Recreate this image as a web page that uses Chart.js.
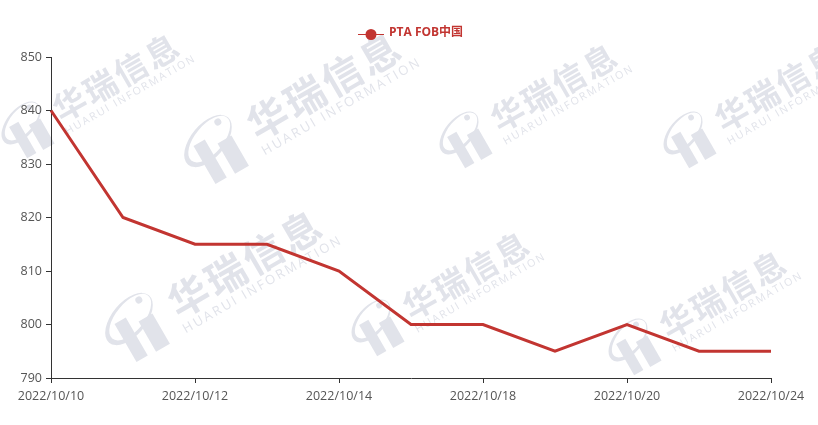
<!DOCTYPE html>
<html>
<head>
<meta charset="utf-8">
<script src="https://cdn.jsdelivr.net/npm/chart.js@4"></script>
<style>
  html, body { margin: 0; padding: 0; background: #fff; }
  canvas { display: block; }
</style>
</head>
<body>
<canvas id="my-chart" width="818" height="425"></canvas>
<script>
let dates = ["2022/10/10", "2022/10/11", "2022/10/12", "2022/10/13", "2022/10/14", "2022/10/17",
  "2022/10/18", "2022/10/19", "2022/10/20", "2022/10/21", "2022/10/24"];
let prices = [840, 820, 815, 815, 810, 800, 800, 795, 800, 795, 795];
let seriesName = "PTA FOB中国";
let red = "#c23531";

// logo centre and scale of each watermark, the words follow up and to the right
let marks = [[21, 123, 0.82], [208, 141, 1], [459, 133, 0.82], [683, 133, 0.82], [129, 319, 1], [371, 321, 0.82], [628, 340, 0.82]];

function drawMark(ctx, x, y, s) {
  ctx.save();
  ctx.translate(x, y);
  ctx.rotate(-30 * Math.PI / 180);
  ctx.scale(s, s);
  ctx.fillStyle = "#e1e3ea";
  let tilt = -20 * Math.PI / 180;
  ctx.beginPath();
  ctx.ellipse(0, 0, 31, 17, tilt, 0, Math.PI * 2);
  ctx.ellipse(2, -1, 28, 14, tilt, 0, Math.PI * 2);
  ctx.fill("evenodd");
  ctx.beginPath();
  ctx.arc(18, -11.5, 3.5, 0, Math.PI * 2);
  ctx.fill();
  ctx.fillRect(-15, -3, 13, 44);
  ctx.fillRect(7, 7, 16, 35);
  ctx.font = "bold 40px 'Noto Sans CJK SC'";
  ctx.letterSpacing = "3px";
  ctx.fillText("华瑞信息", 43, 25);
  ctx.font = "13px 'Open Sans'";
  ctx.letterSpacing = "2.3px";
  ctx.fillText("HUARUI INFORMATION", 42, 41);
  ctx.restore();
}

let watermark = {
  id: "watermark",
  beforeDraw(chart) {
    marks.forEach((m) => drawMark(chart.ctx, m[0], m[1], m[2]));
  },
};

// line-through-dot legend item like the original
let legendDot = {
  id: "legendDot",
  afterDraw(chart) {
    let ctx = chart.ctx;
    ctx.save();
    ctx.strokeStyle = red;
    ctx.fillStyle = red;
    ctx.beginPath();
    ctx.moveTo(358, 34.5);
    ctx.lineTo(384, 34.5);
    ctx.stroke();
    ctx.beginPath();
    ctx.arc(371, 34.5, 5.5, 0, Math.PI * 2);
    ctx.fill();
    ctx.font = "bold 12px 'Open Sans', 'Noto Sans CJK SC'";
    ctx.textBaseline = "middle";
    ctx.fillText(seriesName, 389, 33);
    ctx.restore();
  },
};

new Chart("my-chart", {
  type: "line",
  data: {
    labels: dates,
    datasets: [
      {
        label: seriesName,
        data: prices,
        borderColor: red,
        backgroundColor: red,
        borderWidth: 3,
        pointRadius: 0,
        tension: 0,
      },
    ],
  },
  options: {
    responsive: false,
    animation: false,
    devicePixelRatio: 1,
    layout: { padding: { top: 57, left: 0, right: 47, bottom: 0 } },
    plugins: {
      legend: { display: false },
      tooltip: { enabled: false },
    },
    scales: {
      x: {
        offset: false,
        grid: { drawOnChartArea: false, drawTicks: true, tickLength: 5, tickColor: "#333" },
        border: { color: "#333", width: 1 },
        afterBuildTicks(axis) {
          axis.ticks = axis.ticks.filter((t, i) => i % 2 == 0);
        },
        ticks: {
          autoSkip: false,
          maxRotation: 0,
          color: "#555",
          padding: 6,
          font: { size: 12.5, family: "'Open Sans', sans-serif" },
        },
        afterFit(axis) { axis.height = 47; },
      },
      y: {
        min: 790,
        max: 850,
        grid: { drawOnChartArea: false, drawTicks: true, tickLength: 5, tickColor: "#333" },
        border: { color: "#333", width: 1 },
        ticks: {
          stepSize: 10,
          color: "#555",
          padding: 4,
          font: { size: 12.5, family: "'Open Sans', sans-serif" },
        },
        afterFit(axis) { axis.width = 51; },
      },
    },
  },
  plugins: [watermark, legendDot],
});
</script>
</body>
</html>
